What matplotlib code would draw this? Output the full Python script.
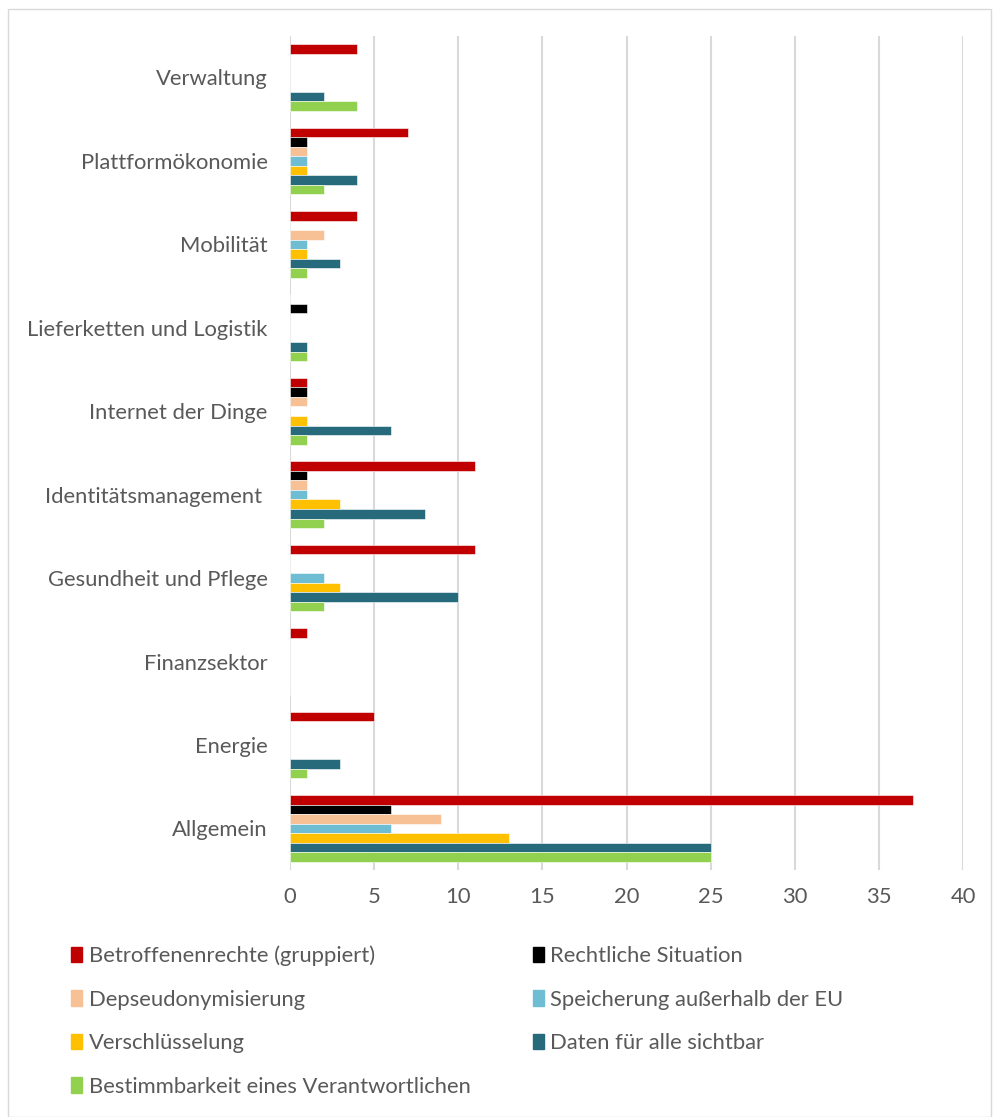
import numpy as np
import matplotlib.pyplot as plt
from matplotlib.patches import Rectangle, Patch

plt.rcParams['font.family'] = ['Lato', 'DejaVu Sans']

categories = ["Allgemein", "Energie", "Finanzsektor", "Gesundheit und Pflege",
              "Identitätsmanagement ", "Internet der Dinge", "Lieferketten und Logistik",
              "Mobilität", "Plattformökonomie", "Verwaltung"]

series_names = ["Betroffenenrechte (gruppiert)", "Rechtliche Situation",
                "Depseudonymisierung", "Speicherung außerhalb der EU",
                "Verschlüsselung", "Daten für alle sichtbar",
                "Bestimmbarkeit eines Verantwortlichen"]

betroffenenrechte = [37, 5, 1, 11, 11, 1, 0, 4, 7, 4]
rechtliche = [6, 0, 0, 0, 1, 1, 1, 0, 1, 0]
depseudo = [9, 0, 0, 0, 1, 1, 0, 2, 1, 0]
speicherung = [6, 0, 0, 2, 1, 0, 0, 1, 1, 0]
verschluesselung = [13, 0, 0, 3, 3, 1, 0, 1, 1, 0]
daten_sichtbar = [25, 3, 0, 10, 8, 6, 1, 3, 4, 2]
bestimmbarkeit = [25, 1, 0, 2, 2, 1, 1, 1, 2, 4]

colors = ["#C00000", "#000000", "#F8C095", "#6EBDD2", "#FFC000", "#276A7C", "#92D050"]

values = [betroffenenrechte, rechtliche, depseudo, speicherung,
          verschluesselung, daten_sichtbar, bestimmbarkeit]

fs = 15.8

fig = plt.figure(figsize=(9.93, 11.17), dpi=100)
ax = fig.add_axes([0.292, 0.221, 0.678, 0.747])

y = np.arange(len(categories))
h = 0.8 / 7
for i, (vals, c) in enumerate(zip(values, colors)):
    ax.barh(y + (3 - i) * h, vals, height=h, color=c, edgecolor="white",
            linewidth=0.4, zorder=3, label=series_names[i])

ax.set_xlim(0, 40)
ax.set_ylim(-0.5, 9.5)
ax.set_xticks(range(0, 41, 5))
ax.set_yticks(y)
ax.set_yticklabels(categories)
ax.tick_params(axis="both", length=0, labelsize=fs, colors="#595959")
ax.tick_params(axis="y", pad=16)
ax.tick_params(axis="x", pad=12)
ax.grid(axis="x", color="#D9D9D9", linewidth=1.5, zorder=0)
for s in ax.spines.values():
    s.set_visible(False)

# legend filled row-wise like the original
handles = [Patch(color=c) for c in colors]
order = [0, 2, 4, 6, 1, 3, 5]
fig.legend([handles[k] for k in order], [series_names[k] for k in order],
           ncol=2, loc="upper left", bbox_to_anchor=(0.052, 0.171),
           frameon=False, fontsize=fs, labelcolor="#595959",
           handlelength=0.5, handleheight=0.7, handletextpad=0.3,
           columnspacing=2.82, labelspacing=1.07)

fig.patches.append(Rectangle((0.008, 0.0), 0.99, 0.992, transform=fig.transFigure,
                             fill=False, edgecolor="#D9D9D9", linewidth=1))

fig.savefig("out.png", dpi=100)
